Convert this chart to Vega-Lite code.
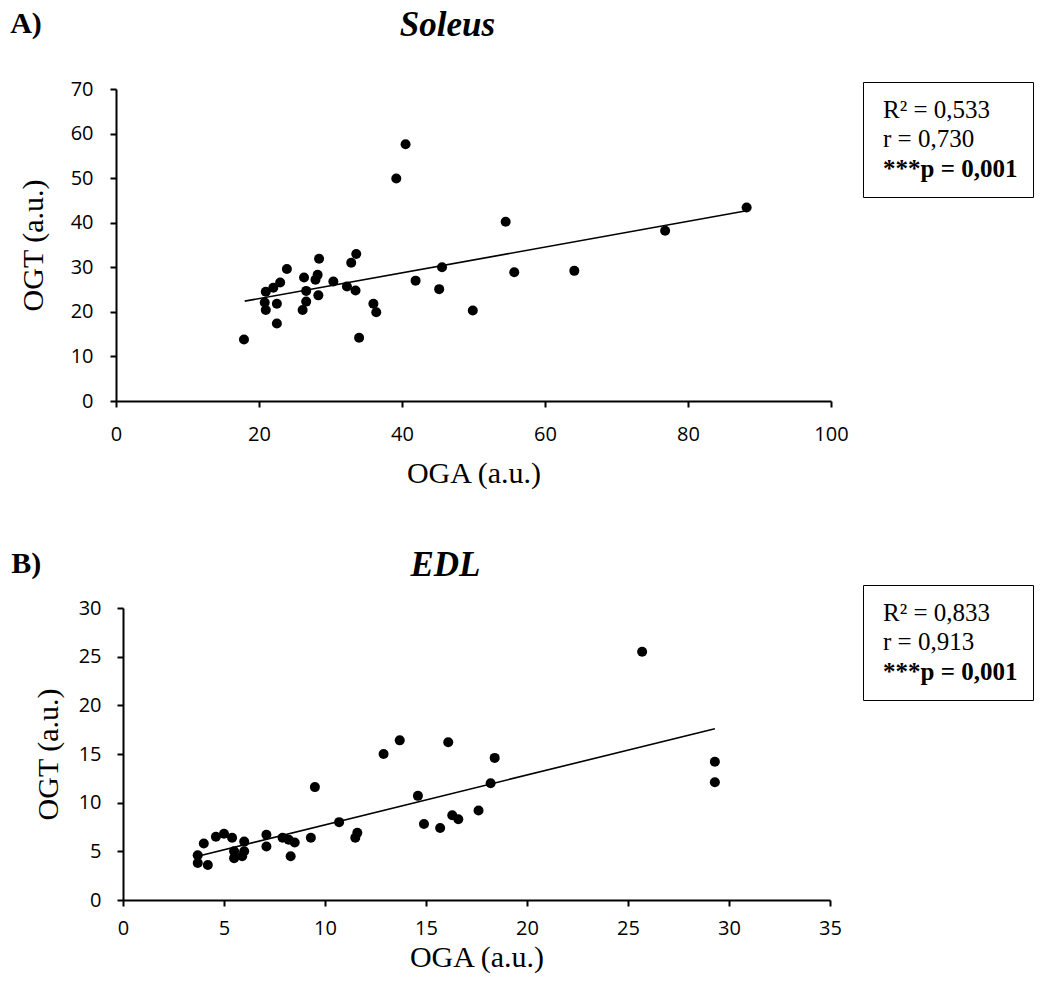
{
  "$schema": "https://vega.github.io/schema/vega-lite/v6.json",
  "background": "white",
  "padding": {"left": 10, "top": 7, "right": 5, "bottom": 5},
  "config": {
    "view": {"stroke": null},
    "axis": {"grid": false, "domainColor": "black", "domainWidth": 2, "tickColor": "black", "tickWidth": 2, "tickSize": 6, "labelFont": "Open Sans", "labelFontSize": 20, "labelColor": "black", "titleFont": "Liberation Serif", "titleFontSize": 30, "titleFontWeight": "normal", "titleColor": "black", "labelFlush": false},
    "legend": {"orient": "none", "title": null, "strokeColor": "black", "padding": 15, "labelFont": "Liberation Serif", "labelFontSize": 25, "labelColor": "black", "symbolSize": 0, "symbolOpacity": 0, "symbolStrokeWidth": 0, "symbolStrokeColor": "transparent", "labelOffset": -20, "rowPadding": 3.5, "labelLimit": 400}
  },
  "resolve": {"scale": {"color": "independent"}, "legend": {"color": "independent"}},
  "datasets": {
    "soleus": [
      {"oga": 17.9, "ogt": 13.8}, {"oga": 20.95, "ogt": 24.5}, {"oga": 22.0, "ogt": 25.4}, {"oga": 22.96, "ogt": 26.6},
      {"oga": 23.9, "ogt": 29.6}, {"oga": 20.8, "ogt": 22.1}, {"oga": 20.95, "ogt": 20.4}, {"oga": 22.5, "ogt": 21.8},
      {"oga": 22.5, "ogt": 17.4}, {"oga": 26.3, "ogt": 27.7}, {"oga": 26.6, "ogt": 24.7}, {"oga": 26.6, "ogt": 22.3},
      {"oga": 26.1, "ogt": 20.4}, {"oga": 27.9, "ogt": 27.2}, {"oga": 28.2, "ogt": 28.3}, {"oga": 28.4, "ogt": 31.9},
      {"oga": 28.3, "ogt": 23.7}, {"oga": 30.4, "ogt": 26.8}, {"oga": 32.3, "ogt": 25.7}, {"oga": 32.9, "ogt": 31.0},
      {"oga": 33.6, "ogt": 33.0}, {"oga": 33.5, "ogt": 24.8}, {"oga": 34.0, "ogt": 14.2}, {"oga": 36.0, "ogt": 21.8},
      {"oga": 36.4, "ogt": 19.9}, {"oga": 39.2, "ogt": 49.9}, {"oga": 40.5, "ogt": 57.6}, {"oga": 41.9, "ogt": 27.0},
      {"oga": 45.6, "ogt": 30.0}, {"oga": 45.2, "ogt": 25.1}, {"oga": 49.9, "ogt": 20.3}, {"oga": 54.5, "ogt": 40.2},
      {"oga": 55.7, "ogt": 28.9}, {"oga": 64.1, "ogt": 29.2}, {"oga": 76.8, "ogt": 38.2}, {"oga": 88.2, "ogt": 43.4}
    ],
    "soleusFit": [{"oga": 18.0, "ogt": 22.4}, {"oga": 88.2, "ogt": 42.7}],
    "soleusStats": [{"stat": "R² = 0,533"}, {"stat": "r = 0,730"}, {"stat": "***p = 0,001"}],
    "edl": [
      {"oga": 3.7, "ogt": 4.6}, {"oga": 3.7, "ogt": 3.8}, {"oga": 4.0, "ogt": 5.8}, {"oga": 4.2, "ogt": 3.6},
      {"oga": 4.6, "ogt": 6.5}, {"oga": 5.0, "ogt": 6.8}, {"oga": 5.4, "ogt": 6.4}, {"oga": 5.5, "ogt": 5.0},
      {"oga": 5.5, "ogt": 4.3}, {"oga": 5.9, "ogt": 4.5}, {"oga": 6.0, "ogt": 6.0}, {"oga": 6.0, "ogt": 5.0},
      {"oga": 7.1, "ogt": 6.7}, {"oga": 7.1, "ogt": 5.5}, {"oga": 7.9, "ogt": 6.4}, {"oga": 8.2, "ogt": 6.2},
      {"oga": 8.3, "ogt": 4.5}, {"oga": 8.5, "ogt": 5.9}, {"oga": 9.3, "ogt": 6.4}, {"oga": 9.5, "ogt": 11.6},
      {"oga": 10.7, "ogt": 8.0}, {"oga": 11.5, "ogt": 6.4}, {"oga": 11.6, "ogt": 6.9}, {"oga": 12.9, "ogt": 15.0},
      {"oga": 13.7, "ogt": 16.4}, {"oga": 14.6, "ogt": 10.7}, {"oga": 14.9, "ogt": 7.8}, {"oga": 15.7, "ogt": 7.4},
      {"oga": 16.1, "ogt": 16.2}, {"oga": 16.3, "ogt": 8.7}, {"oga": 16.6, "ogt": 8.3}, {"oga": 17.6, "ogt": 9.2},
      {"oga": 18.2, "ogt": 12.0}, {"oga": 18.4, "ogt": 14.6}, {"oga": 25.7, "ogt": 25.5}, {"oga": 29.3, "ogt": 14.2},
      {"oga": 29.3, "ogt": 12.1}
    ],
    "edlFit": [{"oga": 3.7, "ogt": 4.5}, {"oga": 29.3, "ogt": 17.6}],
    "edlStats": [{"stat": "R² = 0,833"}, {"stat": "r = 0,913"}, {"stat": "***p = 0,001"}]
  },
  "spacing": 59,
  "vconcat": [
    {
      "width": 715,
      "height": 312,
      "title": {"text": "A)", "anchor": "start", "frame": "bounds", "font": "Liberation Serif", "fontSize": 30, "fontWeight": "bold", "color": "black", "offset": 0, "dx": -8, "dy": 32},
      "layer": [
        {
          "data": {"name": "soleus"},
          "mark": {"type": "circle", "size": 100, "opacity": 1, "color": "black"},
          "encoding": {
            "x": {"field": "oga", "type": "quantitative", "scale": {"domain": [0, 100], "nice": false}, "axis": {"title": "OGA (a.u.)", "values": [0, 20, 40, 60, 80, 100], "labelPadding": 17, "titlePadding": 14}},
            "y": {"field": "ogt", "type": "quantitative", "scale": {"domain": [0, 70], "nice": false}, "axis": {"title": "OGT (a.u.)", "values": [0, 10, 20, 30, 40, 50, 60, 70], "labelPadding": 17, "titlePadding": 22}}
          }
        },
        {
          "data": {"name": "soleusFit"},
          "mark": {"type": "line", "color": "black", "strokeWidth": 1.6},
          "encoding": {
            "x": {"field": "oga", "type": "quantitative", "scale": {"domain": [0, 100], "nice": false}, "axis": {"orient": "top", "title": "Soleus", "domain": false, "ticks": false, "labels": false, "titleFont": "Liberation Serif", "titleFontSize": 35, "titleFontWeight": "bold", "titleFontStyle": "italic", "titleX": 331, "titlePadding": 47}},
            "y": {"field": "ogt", "type": "quantitative"}
          }
        },
        {
          "data": {"name": "soleusStats"},
          "mark": {"type": "point", "opacity": 0},
          "encoding": {
            "color": {"field": "stat", "type": "nominal", "sort": null, "scale": {"range": ["black", "black", "black"]},
              "legend": {"legendX": 747, "legendY": -7, "labelFontWeight": {"expr": "indexof(datum.value, 'p =') >= 0 ? 'bold' : 'normal'"}, "encode": {"legend": {"update": {"strokeWidth": {"value": 1.5}}}}}}
          }
        }
      ],
      "resolve": {"axis": {"x": "independent"}}
    },
    {
      "width": 715,
      "height": 292,
      "title": {"text": "B)", "anchor": "start", "frame": "bounds", "font": "Liberation Serif", "fontSize": 30, "fontWeight": "bold", "color": "black", "offset": 0, "dx": -22, "dy": 32},
      "layer": [
        {
          "data": {"name": "edl"},
          "mark": {"type": "circle", "size": 100, "opacity": 1, "color": "black"},
          "encoding": {
            "x": {"field": "oga", "type": "quantitative", "scale": {"domain": [0, 35], "nice": false, "range": [7, 714]}, "axis": {"title": "OGA (a.u.)", "values": [0, 5, 10, 15, 20, 25, 30, 35], "labelPadding": 12, "titlePadding": 4}},
            "y": {"field": "ogt", "type": "quantitative", "scale": {"domain": [0, 30], "nice": false}, "axis": {"title": "OGT (a.u.)", "values": [0, 5, 10, 15, 20, 25, 30], "offset": -7, "labelPadding": 16, "titlePadding": 15}}
          }
        },
        {
          "data": {"name": "edlFit"},
          "mark": {"type": "line", "color": "black", "strokeWidth": 1.6},
          "encoding": {
            "x": {"field": "oga", "type": "quantitative", "scale": {"domain": [0, 35], "nice": false, "range": [7, 714]}, "axis": {"orient": "top", "title": "EDL", "domain": false, "ticks": false, "labels": false, "titleFont": "Liberation Serif", "titleFontSize": 35, "titleFontWeight": "bold", "titleFontStyle": "italic", "titleX": 329, "titlePadding": 26}},
            "y": {"field": "ogt", "type": "quantitative"}
          }
        },
        {
          "data": {"name": "edlStats"},
          "mark": {"type": "point", "opacity": 0},
          "encoding": {
            "color": {"field": "stat", "type": "nominal", "sort": null, "scale": {"range": ["black", "black", "black"]},
              "legend": {"legendX": 747, "legendY": -23, "labelFontWeight": {"expr": "indexof(datum.value, 'p =') >= 0 ? 'bold' : 'normal'"}, "encode": {"legend": {"update": {"strokeWidth": {"value": 1.5}}}}}}
          }
        }
      ],
      "resolve": {"axis": {"x": "independent"}}
    }
  ]
}
